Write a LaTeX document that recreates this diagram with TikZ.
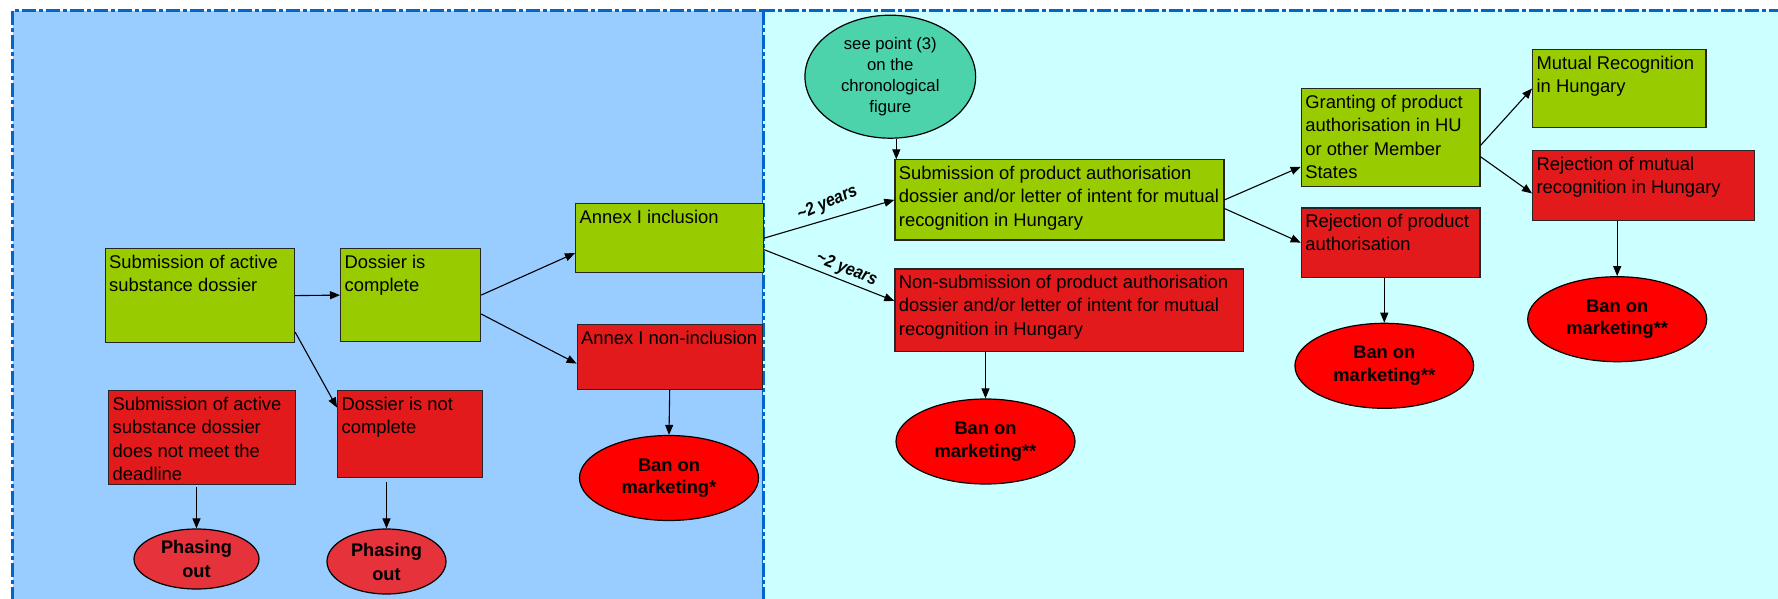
\documentclass[tikz,border=0pt]{standalone}
\usepackage{fontspec}
\setmainfont{Liberation Sans}
\usetikzlibrary{shapes.geometric, arrows.meta}
\definecolor{leftblue}{HTML}{99CCFF}
\definecolor{rightcyan}{HTML}{CCFFFF}
\definecolor{frameblue}{HTML}{0066CC}
\definecolor{okgreen}{HTML}{99CC00}
\definecolor{nored}{HTML}{E31A1C}
\definecolor{banred}{HTML}{FF0000}
\definecolor{phasered}{HTML}{E5323B}
\definecolor{seeteal}{HTML}{4CD3AC}
\newcommand{\boxtext}[3]{\parbox[t][#2][t]{#1}{\raggedright\strut #3}}
\tikzstyle{panel} = [draw=frameblue, line width=3pt, dash pattern=on 14pt off 3pt on 4pt off 3pt]
\tikzstyle{okbox} = [rectangle, draw=black!85, line width=1.2pt, fill=okgreen, anchor=north west, inner xsep=4pt, inner ysep=3pt, font=\fontsize{18.4}{23.5}\selectfont]
\tikzstyle{nobox} = [okbox, fill=nored]
\tikzstyle{ban} = [ellipse, draw=black, line width=1.2pt, fill=banred, inner sep=0pt, align=center, font=\fontsize{18.3}{22.7}\selectfont\bfseries]
\tikzstyle{phase} = [ban, fill=phasered, font=\fontsize{18.2}{24}\selectfont\bfseries]
\tikzstyle{note} = [ellipse, draw=black, line width=1.2pt, fill=seeteal, inner sep=0pt, align=center, font=\fontsize{16.7}{21.3}\selectfont]
\tikzstyle{years} = [inner sep=2pt, font=\fontsize{18}{20}\selectfont\bfseries\itshape\addfontfeature{FakeStretch=0.88}]
\tikzstyle{arrow} = [line width=1.1pt, -{Triangle[length=10pt,width=8pt]}]
\begin{document}
\begin{tikzpicture}[x=1pt, y=-1pt]
  \useasboundingbox (0,0) rectangle (1778,599);
  \clip (0,0) rectangle (1778,599);
  % the two stages
  \draw [panel, fill=leftblue] (12.5,11) rectangle (763.3,640);
  \draw [panel, fill=rightcyan] (763.3,11) rectangle (1820,640);

  % active substance stage
  \node (subA) [okbox] at (104.5,248) {\boxtext{181.5pt}{88pt}{Submission of active\\substance dossier}};
  \node (dosC) [okbox] at (340,248) {\boxtext{132pt}{87pt}{Dossier is\\complete}};
  \node (annI) [okbox] at (575,203) {\boxtext{180pt}{63pt}{Annex I inclusion}};
  \node (annN) [nobox] at (576.6,324) {\boxtext{177pt}{59pt}{Annex I non-inclusion}};
  \node (subL) [nobox] at (108,390) {\boxtext{178.5pt}{88pt}{Submission of active\\substance dossier\\does not meet the\\deadline}};
  \node (dosN) [nobox] at (337,390) {\boxtext{136.6pt}{81pt}{Dossier is not\\complete}};
  \node (ban1) [ban, minimum width=179pt, minimum height=85pt] at (669,478) {Ban on\\marketing*};
  \node (phase1) [phase, minimum width=125pt, minimum height=60pt] at (196.5,559) {Phasing\\out};
  \node (phase2) [phase, minimum width=119pt, minimum height=65pt] at (386.5,561.5) {Phasing\\out};

  % product authorisation stage
  \node (see) [note, minimum width=170.7pt, minimum height=123pt] at (890.3,76.7) {see point (3)\\on the\\chronological\\figure};
  \node (subP) [okbox] at (894.3,159.3) {\boxtext{321pt}{74pt}{Submission of product authorisation\\dossier and/or letter of intent for mutual\\recognition in Hungary}};
  \node (nonP) [nobox] at (894.3,268.3) {\boxtext{340.4pt}{76.4pt}{Non-submission of product authorisation\\dossier and/or letter of intent for mutual\\recognition in Hungary}};
  \node (ban2) [ban, minimum width=179pt, minimum height=85pt] at (985.5,441.5) {Ban on\\marketing**};
  \node (grant) [okbox] at (1300.7,88.3) {\boxtext{170.6pt}{91.4pt}{Granting of product\\authorisation in HU\\or other Member\\States}};
  \node (rejP) [nobox] at (1300.7,207.3) {\boxtext{170.6pt}{63.4pt}{Rejection of product\\authorisation}};
  \node (ban3) [ban, minimum width=178.7pt, minimum height=85pt] at (1384.3,365.8) {Ban on\\marketing**};
  \node (mutR) [okbox] at (1532,49.3) {\boxtext{165.3pt}{71.4pt}{Mutual Recognition\\in Hungary}};
  \node (rejM) [nobox] at (1532,150) {\boxtext{213.7pt}{64pt}{Rejection of mutual\\recognition in Hungary}};
  \node (ban4) [ban, minimum width=179pt, minimum height=85pt] at (1617.2,319.2) {Ban on\\marketing**};

  \draw [arrow] (subA.east) -- (dosC.west);
  \draw [arrow] (subA.-21) -- (dosN.160);
  \draw [arrow] (dosC.east) -- (annI.189);
  \draw [arrow] (dosC.-15) -- (annN.184);
  \draw [arrow] (annN.south) -- (ban1.north);
  \draw [arrow, shorten <=2pt] (phase1.north |- subL.south) -- (phase1.north);
  \draw [arrow, shorten <=4pt] (phase2.north |- dosN.south) -- (phase2.north);

  \draw [arrow] ([xshift=6pt]see.south) -- ([xshift=6pt]see.south |- subP.north);
  \draw [arrow] (annI.east) -- node[years, pos=0.52, above=5pt, rotate=24] {\textasciitilde2 years} (subP.west);
  \draw [arrow] (annI.-7) -- node[years, pos=0.6, above=1pt, sloped] {\textasciitilde2 years} (nonP.177);
  \draw [arrow] (ban2.north |- nonP.south) -- (ban2.north);
  \draw [arrow] (subP.east) -- (grant.198);
  \draw [arrow] (subP.-3) -- (rejP.west);
  \draw [arrow] (ban3.north |- rejP.south) -- (ban3.north);
  \draw [arrow] (grant.-5) -- (mutR.west);
  \draw [arrow] (grant.-12) -- (rejM.184);
  \draw [arrow] (ban4.north |- rejM.south) -- (ban4.north);
\end{tikzpicture}
\end{document}
